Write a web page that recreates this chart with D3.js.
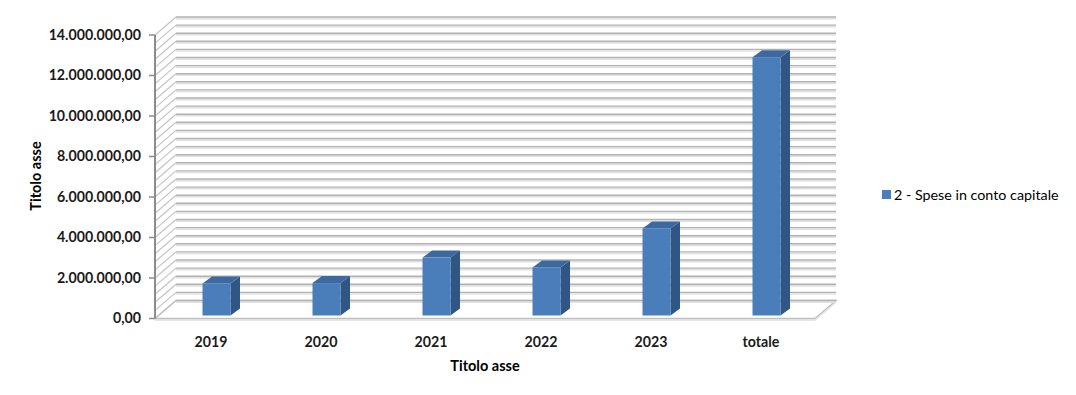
<!DOCTYPE html>
<html><head><meta charset="utf-8">
<script src="https://cdn.jsdelivr.net/npm/d3@7"></script>
<style>body{margin:0;background:#fff}svg{display:block}text{font-family:Lato,"Open Sans",sans-serif}</style>
</head><body>
<script>
const categories = ["2019","2020","2021","2022","2023","totale"];
const values = [1580000, 1600000, 2860000, 2370000, 4300000, 12750000];
const seriesName = "2 - Spese in conto capitale";
const yTicks = [0,2000000,4000000,6000000,8000000,10000000,12000000,14000000];
const yTitle = "Titolo asse";
const xTitle = "Titolo asse";

const W=1076,H=395;
const svg=d3.select("body").append("svg").attr("width",W).attr("height",H);
const DX=21, DY=-18;           // wall depth offset
const x=d3.scaleBand().domain(categories).range([155,815]);
const y=d3.scaleLinear().domain([0,14000000]).range([318.5,35]);
const fmt=d3.formatLocale({decimal:",",thousands:".",grouping:[3],currency:["€",""]}).format(",.2f");

// floor
svg.append("polygon").attr("points",[[155,318.5],[815,318.5],[815+DX,318.5+DY],[155+DX,318.5+DY]].map(p=>p.join(",")).join(" "))
  .attr("fill","#fff").attr("stroke","#bfbfbf").attr("stroke-width",1.5);
svg.append("line").attr("x1",155).attr("x2",815).attr("y1",320).attr("y2",320).attr("stroke","#dedede").attr("stroke-width",1.5);
svg.append("line").attr("x1",815).attr("x2",815+DX).attr("y1",320).attr("y2",320+DY).attr("stroke","#dedede").attr("stroke-width",1.5);

// gridlines
const grid=d3.range(0,14000001,400000);
const g=svg.append("g");
grid.forEach(v=>{
  const yb=y(v)+DY, yf=y(v);
  g.append("line").attr("x1",155+DX).attr("x2",815+DX).attr("y1",yb+1.6).attr("y2",yb+1.6).attr("stroke","#e0e0e0").attr("stroke-width",1.6);
  g.append("line").attr("x1",155+DX).attr("x2",815+DX).attr("y1",yb).attr("y2",yb).attr("stroke","#b2b2b2").attr("stroke-width",1.4);
  g.append("line").attr("x1",155).attr("x2",155+DX).attr("y1",yf).attr("y2",yb).attr("stroke","#c4c4c4").attr("stroke-width",1.2);
});

// axis
svg.append("line").attr("x1",155).attr("x2",155).attr("y1",y(0)).attr("y2",y(14000000)).attr("stroke","#8c8c8c").attr("stroke-width",2);
yTicks.forEach(v=>{
  svg.append("line").attr("x1",149).attr("x2",155).attr("y1",y(v)).attr("y2",y(v)).attr("stroke","#8c8c8c").attr("stroke-width",1.5);
  svg.append("text").attr("x",141).attr("y",y(v)).attr("dy","0.35em").attr("text-anchor","end")
    .attr("font-size",14.2).attr("font-weight","bold").attr("fill","#1a1a1a").text(fmt(v));
});

// bars
const BW=28, BDX=9.5, BDY=-7, BSX=-7.5, BSY=-3;
const bars=svg.append("g");
categories.forEach((c,i)=>{
  const cx=x(c)+x.bandwidth()/2;
  const xl=cx+BSX, xr=xl+BW, yb=y(0)+BSY, yt=y(values[i])+BSY;
  bars.append("polygon").attr("points",[[xr,yb],[xr+BDX,yb+BDY],[xr+BDX,yt+BDY],[xr,yt]].map(p=>p.join(",")).join(" ")).attr("fill","#2f5685");
  bars.append("polygon").attr("points",[[xl,yt],[xr,yt],[xr+BDX,yt+BDY],[xl+BDX,yt+BDY]].map(p=>p.join(",")).join(" ")).attr("fill","#3c6aa0");
  bars.append("rect").attr("x",xl).attr("y",yt).attr("width",BW).attr("height",yb-yt).attr("fill","#4a7ebb");
  svg.append("text").attr("x",cx+1).attr("y",342).attr("dy","0.35em").attr("text-anchor","middle")
    .attr("font-size",14.2).attr("font-weight","bold").attr("fill","#1a1a1a").text(c);
});

// titles
svg.append("text").attr("transform","translate(36,176) rotate(-90)").attr("text-anchor","middle").attr("dy","0.35em")
  .attr("font-size",14.5).attr("font-weight","bold").attr("fill","#000").text(yTitle);
svg.append("text").attr("x",485).attr("y",366).attr("dy","0.35em").attr("text-anchor","middle")
  .attr("font-size",14.5).attr("font-weight","bold").attr("fill","#000").text(xTitle);

// legend
svg.append("rect").attr("x",882).attr("y",190).attr("width",9).attr("height",9).attr("fill","#4a7ebb");
svg.append("text").attr("x",894).attr("y",195).attr("dy","0.35em").attr("font-size",14.3).attr("fill","#000").text(seriesName);
</script>
</body></html>
